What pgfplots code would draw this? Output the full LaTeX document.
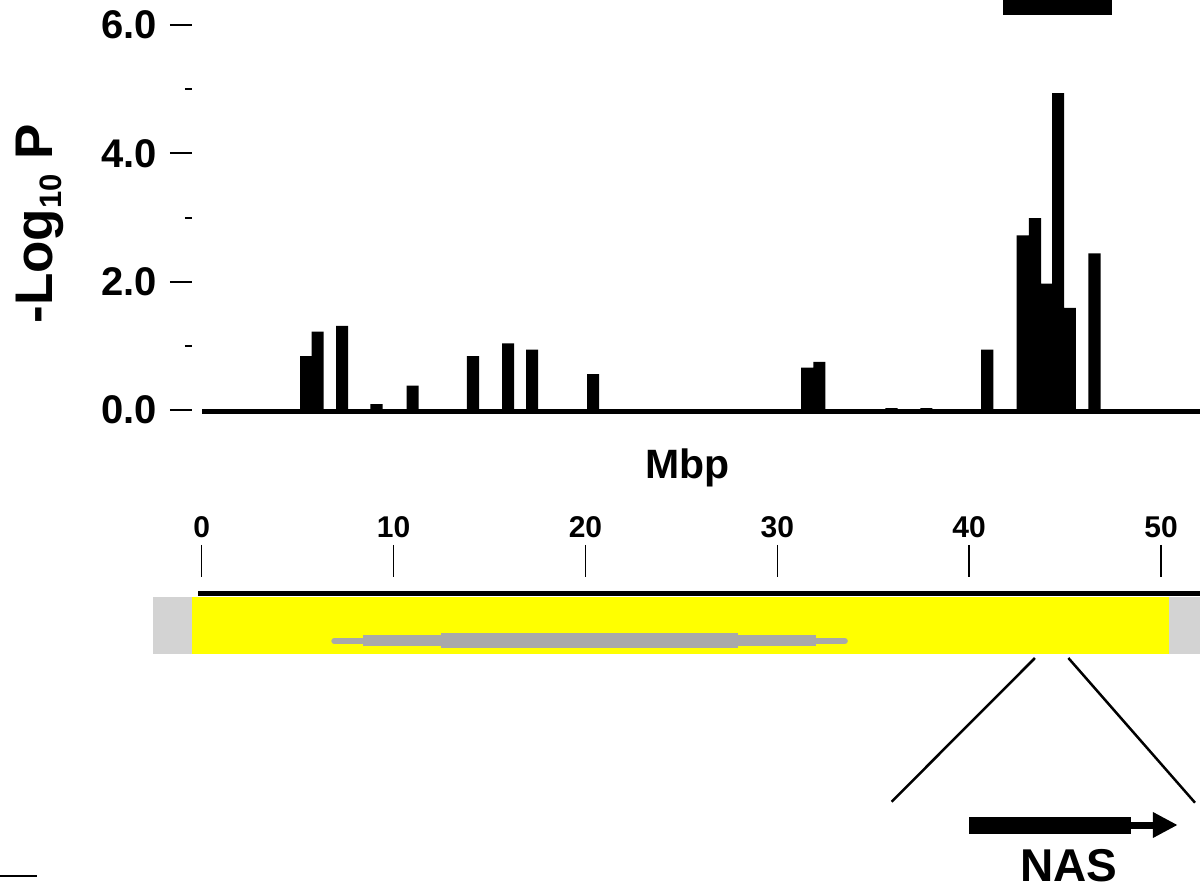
\documentclass[border=0pt]{standalone}
\usepackage{pgfplots}
\pgfplotsset{compat=1.18}
\usepackage{fontspec}
\setmainfont{Liberation Sans}
\definecolor{ltgray}{HTML}{D3D3D3}
\definecolor{midgray}{HTML}{A9A9A9}
\definecolor{ylw}{HTML}{FFFF00}
\begin{document}
\begin{tikzpicture}[x=1pt,y=1pt]
\path[use as bounding box] (0,0) rectangle (1200,892);
% ---------------- association bars ----------------
\begin{axis}[
  at={(192pt,482pt)}, anchor=south west,
  scale only axis, width=1008pt, height=410pt,
  xmin=-0.506, xmax=52.03, ymin=0, ymax=6.39,
  clip=false,
  axis x line=none,
  axis y line*=left,
  y axis line style={draw=none},
  ytick={0,2,4,6},
  yticklabels={0.0,2.0,4.0,6.0},
  minor ytick={1,3,5},
  tick align=outside,
  major tick length=22pt,
  minor tick length=7pt,
  ytick style={line width=2pt, black},
  yticklabel style={font=\bfseries\fontsize{40}{42}\selectfont, inner sep=0pt, xshift=-13pt},
]
\addplot[ybar, bar width=0.63, fill=black, draw=none] coordinates {
  (5.44,0.84) (6.04,1.22) (7.32,1.31) (9.11,0.09) (10.99,0.38)
  (14.14,0.84) (15.97,1.04) (17.22,0.94) (20.40,0.56)
  (31.55,0.66) (32.19,0.75) (35.95,0.03) (37.77,0.03)
  (40.94,0.94) (42.79,2.72) (43.43,2.99) (44.00,1.97)
  (44.64,4.94) (45.25,1.59) (46.53,2.44)
};
\addplot[line width=5pt, black] coordinates {(0.02,-0.027) (52.03,-0.027)};
\addplot[fill=black, draw=none] coordinates {(41.77,6.155) (47.47,6.155) (47.47,6.39) (41.77,6.39)} -- cycle;
\node[font=\bfseries\fontsize{41}{44}\selectfont, anchor=base] at (axis cs:25.3,-1.06) {Mbp};
\node[rotate=90, font=\bfseries\fontsize{53}{56}\selectfont] at (axis cs:-8.43,2.90) {-Log\raisebox{-9pt}{\fontsize{31}{31}\selectfont 10} P};
\end{axis}
% ---------------- chromosome ruler ----------------
\begin{axis}[
  at={(0pt,0pt)}, anchor=south west,
  scale only axis, width=1200pt, height=315pt,
  xmin=-10.513, xmax=52.03, ymin=0, ymax=315,
  clip=false,
  axis y line=none,
  axis x line*=top,
  x axis line style={draw=none},
  xtick={0,10,20,30,40,50},
  xticklabels={0,10,20,30,40,50},
  tick align=outside,
  major tick length=32pt,
  xtick style={line width=1.5pt, black},
  xticklabel style={font=\bfseries\fontsize{30}{32}\selectfont, inner sep=0pt, yshift=7pt},
]
\addplot[fill=ltgray, draw=none] coordinates {(-2.54,238) (-0.506,238) (-0.506,295) (-2.54,295)} -- cycle;
\addplot[fill=ylw, draw=none] coordinates {(-0.506,238) (50.39,238) (50.39,295) (-0.506,295)} -- cycle;
\addplot[fill=ltgray, draw=none] coordinates {(50.39,238) (52.03,238) (52.03,295) (50.39,295)} -- cycle;
\addplot[line width=5pt, black] coordinates {(-0.19,298.5) (52.03,298.5)};
% centromere / heterochromatin block
\addplot[line width=6pt, midgray, line cap=round] coordinates {(6.91,251) (33.52,251)};
\addplot[fill=midgray, draw=none] coordinates {(8.42,246) (32.02,246) (32.02,257) (8.42,257)} -- cycle;
\addplot[fill=midgray, draw=none] coordinates {(12.47,244) (27.95,244) (27.95,259) (12.47,259)} -- cycle;
% zoom lines
\addplot[line width=2.5pt, black] coordinates {(43.43,234) (35.96,90.3)};
\addplot[line width=2.5pt, black] coordinates {(45.17,234) (51.77,89.3)};
% NAS gene arrow
\addplot[fill=black, draw=none] coordinates {(40.0,57.7) (48.44,57.7) (48.44,75.3) (40.0,75.3)} -- cycle;
\addplot[fill=black, draw=none] coordinates {(48.40,63) (49.69,63) (49.69,70) (48.40,70)} -- cycle;
\addplot[fill=black, draw=none] coordinates {(49.58,54) (50.84,67) (49.58,80)} -- cycle;
\node[font=\bfseries\fontsize{46}{48}\selectfont, anchor=base, inner sep=0pt] at (axis cs:45.2,11) {NAS};
\addplot[line width=1.5pt, black] coordinates {(-10.513,16) (-8.58,16)};
\end{axis}
\end{tikzpicture}
\end{document}
